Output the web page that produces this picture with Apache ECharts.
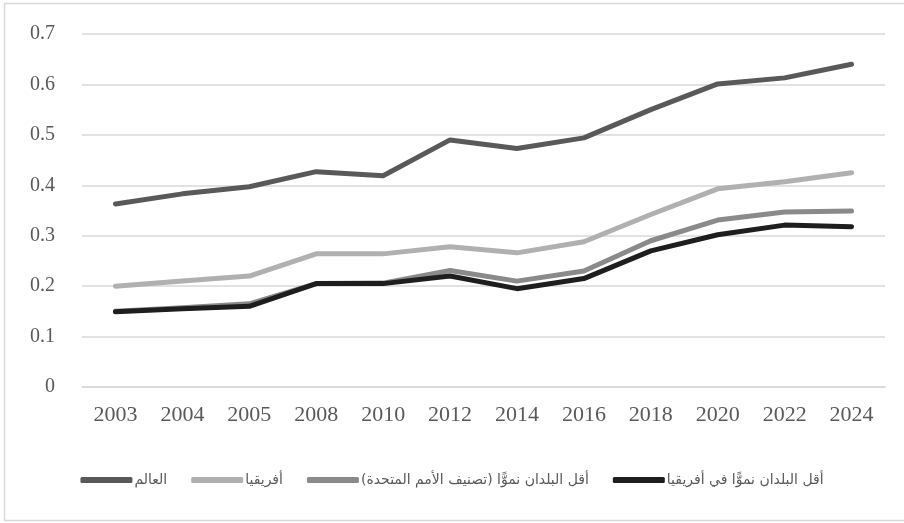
<!DOCTYPE html>
<html>
<head>
<meta charset="utf-8">
<script src="https://cdn.jsdelivr.net/npm/echarts@6/dist/echarts.min.js"></script>
<style>
html,body{margin:0;padding:0;background:#fff;}
#chart{width:904px;height:523px;}
</style>
</head>
<body>
<div id="chart"></div>
<script>
const years = ['2003','2004','2005','2008','2010','2012','2014','2016','2018','2020','2022','2024'];
const seriesNames = ['العالم','أفريقيا','أقل البلدان نموًّا (تصنيف الأمم المتحدة)','أقل البلدان نموًّا في أفريقيا'];
const world = [0.363,0.383,0.397,0.427,0.419,0.490,0.473,0.494,0.550,0.601,0.613,0.640];
const africa = [0.200,0.210,0.220,0.264,0.264,0.278,0.266,0.288,0.342,0.393,0.407,0.425];
const ldcUN = [0.150,0.157,0.165,0.205,0.206,0.231,0.210,0.230,0.290,0.331,0.347,0.349];
const ldcAfrica = [0.149,0.155,0.160,0.205,0.205,0.220,0.195,0.215,0.270,0.302,0.321,0.318];
const colors = ['#595959','#b0b0b0','#8a8a8a','#1e1e1e'];

const chart = echarts.init(document.getElementById('chart'), null, {renderer:'canvas'});
const datasets = [world, africa, ldcUN, ldcAfrica];
chart.setOption({
  animation:false,
  backgroundColor:'#ffffff',
  graphic:[{
    type:'rect', silent:true, z:-10,
    shape:{x:4.5,y:3.5,width:920,height:517},
    style:{fill:'none',stroke:'#d9d9d9',lineWidth:1.5}
  }],
  grid:{left:82,right:19,top:34,bottom:136},
  legend:{
    bottom:31,
    left:'center',
    itemWidth:52,
    itemHeight:6,
    itemGap:24,
    icon:'roundRect',
    textStyle:{fontFamily:'DejaVu Sans',fontSize:14,color:'#595959',padding:[0,0,0,-3]},
    data:seriesNames
  },
  xAxis:{
    type:'category',
    data:years,
    boundaryGap:true,
    axisLine:{show:true,lineStyle:{color:'#d9d9d9',width:1.5}},
    axisTick:{show:false},
    axisLabel:{fontFamily:'Liberation Serif',fontSize:22,color:'#595959',margin:17}
  },
  yAxis:{
    type:'value',
    min:0,max:0.7,interval:0.1,
    axisLine:{show:false},
    axisTick:{show:false},
    splitLine:{lineStyle:{color:'#d9d9d9',width:1.5}},
    axisLabel:{fontFamily:'Liberation Serif',fontSize:20,color:'#595959',margin:27,padding:[0,0,8,0]}
  },
  series: datasets.map((d,i)=>({
    name:seriesNames[i],
    type:'line',
    data:d,
    symbol:'none',
    z:2+i,
    lineStyle:{width:5,color:colors[i],cap:'round',join:'round'},
    itemStyle:{color:colors[i]}
  }))
});
</script>
</body>
</html>
